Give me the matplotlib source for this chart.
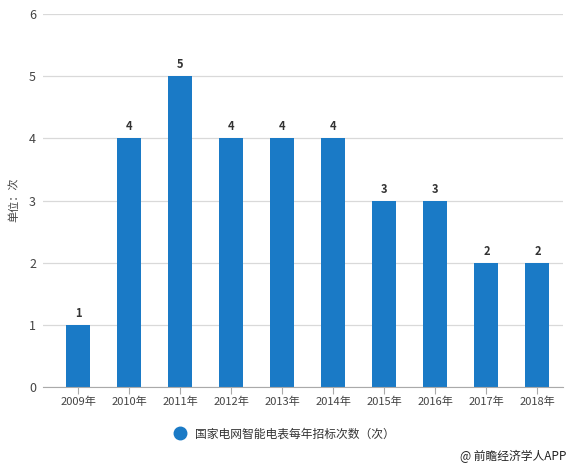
import numpy as np
import matplotlib
matplotlib.use('Agg')
import matplotlib.pyplot as plt
from matplotlib.lines import Line2D

plt.rcParams['font.family'] = ['Noto Sans CJK SC', 'DejaVu Sans']

years = ['2009年', '2010年', '2011年', '2012年', '2013年',
         '2014年', '2015年', '2016年', '2017年', '2018年']
counts = [1, 4, 5, 4, 4, 4, 3, 3, 2, 2]
series_name = '国家电网智能电表每年招标次数（次）'
bar_color = '#1a7ac6'

fig = plt.figure(figsize=(5.74, 4.69), dpi=100)
ax = fig.add_axes([43 / 574, 82 / 469, 520 / 574, 373 / 469])

x = np.arange(len(years))
ax.bar(x, counts, width=0.47, color=bar_color, zorder=3)
for xi, v in zip(x, counts):
    ax.text(xi, v + 0.08, str(v), ha='center', va='bottom',
            fontsize=8, fontweight='bold', color='#333333')

ax.set_ylim(0, 6)
ax.set_xlim(-0.69, 9.5)
ax.set_yticks(range(0, 7))
ax.set_xticks(x)
ax.set_xticklabels(years)
ax.tick_params(axis='y', length=0, labelsize=9, labelcolor='#444444', pad=5)
ax.tick_params(axis='x', length=5, color='#aaaaaa', labelsize=8,
               labelcolor='#444444', pad=2)
ax.yaxis.grid(True, color='#d9d9d9', linewidth=0.9, zorder=0)
for side in ['top', 'right', 'left']:
    ax.spines[side].set_visible(False)
ax.spines['bottom'].set_color('#aaaaaa')
ax.spines['bottom'].set_zorder(4)

fig.text(14 / 574, 1 - 200 / 469, '单位：次', rotation=90, ha='center',
         va='center', fontsize=8, color='#444444')

handle = Line2D([], [], marker='o', linestyle='None', markersize=9,
                color=bar_color)
fig.legend([handle], [series_name], loc='center',
           bbox_to_anchor=(0.49, 1 - 434 / 469), frameon=False,
           fontsize=8.5, handletextpad=0.3, labelcolor='#333333')

fig.text(566 / 574, 1 - 456 / 469, '@ 前瞻经济学人APP', ha='right',
         va='center', fontsize=8.5, color='#222222')

plt.savefig('out.png', dpi=100)
